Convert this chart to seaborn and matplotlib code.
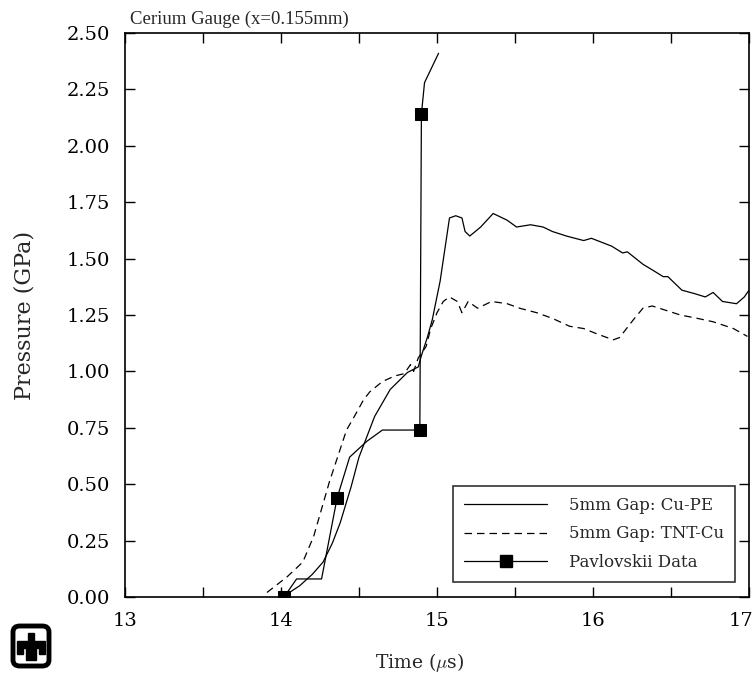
import numpy as np
import pandas as pd
import matplotlib
matplotlib.use("Agg")
import matplotlib.pyplot as plt
import matplotlib.transforms as mtransforms
from matplotlib.lines import Line2D
from matplotlib.patches import FancyBboxPatch, Polygon
import seaborn as sns

sns.set_style("white")
plt.rcParams['font.family'] = ['DejaVu Serif']
plt.rcParams['mathtext.fontset'] = 'cm'

# ---- data ----
cupe_t = [14.01, 14.12, 14.20, 14.27, 14.33, 14.38, 14.45, 14.50, 14.55, 14.60, 14.70, 14.81,
          14.88, 14.90, 14.94, 14.97, 15.02, 15.08, 15.12, 15.16, 15.18, 15.21, 15.28, 15.36,
          15.42, 15.45, 15.51, 15.60, 15.68, 15.74, 15.83, 15.94, 15.99, 16.12, 16.19, 16.22,
          16.32, 16.38, 16.45, 16.48, 16.51, 16.57, 16.65, 16.72, 16.77, 16.83, 16.92, 16.97, 17.00]
cupe_p = [0.00, 0.05, 0.10, 0.155, 0.24, 0.33, 0.49, 0.62, 0.71, 0.80, 0.92, 0.995,
          1.02, 1.07, 1.155, 1.23, 1.40, 1.68, 1.69, 1.68, 1.62, 1.60, 1.64, 1.70,
          1.68, 1.67, 1.64, 1.65, 1.64, 1.62, 1.60, 1.58, 1.59, 1.555, 1.525, 1.53,
          1.475, 1.45, 1.42, 1.42, 1.40, 1.36, 1.345, 1.33, 1.35, 1.31, 1.30, 1.33, 1.36]

tnt_t = [13.91, 14.04, 14.14, 14.21, 14.31, 14.42, 14.47, 14.53, 14.57, 14.65, 14.73, 14.79,
         14.83, 14.85, 14.88, 14.93, 14.96, 15.00, 15.04, 15.08, 15.13, 15.16, 15.20, 15.26,
         15.35, 15.45, 15.53, 15.64, 15.74, 15.85, 15.94, 16.03, 16.13, 16.17, 16.26, 16.32,
         16.38, 16.47, 16.56, 16.67, 16.77, 16.90, 16.99]
tnt_p = [0.02, 0.09, 0.155, 0.27, 0.51, 0.74, 0.80, 0.875, 0.91, 0.955, 0.98, 0.99,
         1.03, 1.00, 1.06, 1.11, 1.19, 1.26, 1.31, 1.33, 1.31, 1.26, 1.31, 1.28,
         1.31, 1.30, 1.28, 1.26, 1.235, 1.20, 1.19, 1.165, 1.14, 1.15, 1.23, 1.28,
         1.29, 1.27, 1.25, 1.235, 1.22, 1.19, 1.155]

pav_t = [14.02, 14.10, 14.26, 14.36, 14.44, 14.55, 14.65, 14.89, 14.90, 14.92, 15.01]
pav_p = [0.00, 0.08, 0.08, 0.44, 0.62, 0.69, 0.74, 0.74, 2.14, 2.28, 2.41]
pav_marks = [0, 3, 7, 8]

x_ticks = [13, 14, 15, 16, 17]
y_ticks = [0.00, 0.25, 0.50, 0.75, 1.00, 1.25, 1.50, 1.75, 2.00, 2.25, 2.50]

labels = ["5mm Gap: Cu-PE", "5mm Gap: TNT-Cu", "Pavlovskii Data"]

# ---- figure ----
fig = plt.figure(figsize=(7.56, 6.8), dpi=100)
ax = fig.add_axes([125/756, 1-597/680, 624/756, 564/680])

df1 = pd.DataFrame({"t": cupe_t, "p": cupe_p})
df2 = pd.DataFrame({"t": tnt_t, "p": tnt_p})
df3 = pd.DataFrame({"t": pav_t, "p": pav_p})

sns.lineplot(data=df1, x="t", y="p", ax=ax, sort=False, estimator=None,
             color="black", linewidth=0.9)
sns.lineplot(data=df2, x="t", y="p", ax=ax, sort=False, estimator=None,
             color="black", linewidth=0.9, linestyle=(0, (6, 4)))
sns.lineplot(data=df3, x="t", y="p", ax=ax, sort=False, estimator=None,
             color="black", linewidth=0.9, marker="s", markersize=8,
             markevery=pav_marks, markeredgecolor="black", markerfacecolor="black")

ax.set_xlim(13, 17)
ax.set_ylim(0, 2.5)
minor_x = np.arange(13, 17.01, 0.5)
ax.set_xticks(minor_x)
ax.set_xticklabels([str(int(v)) if float(v).is_integer() else "" for v in minor_x],
                   fontsize=14)
ax.set_yticks(y_ticks)
ax.set_yticklabels([f"{v:.2f}" for v in y_ticks], fontsize=14)
ax.tick_params(direction="in", length=7, width=1, top=True, right=True,
               bottom=True, left=True, pad=11, colors="black")
for s in ax.spines.values():
    s.set_visible(True)
    s.set_color("black")
    s.set_linewidth(1.2)
ax.set_xlabel("")
ax.set_ylabel("Pressure (GPa)", fontsize=16, labelpad=22)

# keep the last x label inside the canvas
last = ax.get_xticklabels()[-1]
last.set_transform(last.get_transform() +
                   mtransforms.ScaledTranslation(-8/100, 0, fig.dpi_scale_trans))

fig.text(130/756, 1-24/680, "Cerium Gauge (x=0.155mm)", fontsize=13.5, va="baseline",
         ha="left", family="Liberation Serif")
fig.text(420/756, 1-668/680, r"Time ($\mu$s)", fontsize=13.5, va="baseline", ha="center")

handles = [Line2D([], [], color="black", lw=0.9),
           Line2D([], [], color="black", lw=0.9, linestyle=(0, (6, 4))),
           Line2D([], [], color="black", lw=0.9, marker="s", markersize=8)]
leg = ax.legend(handles, labels, loc="lower right", bbox_to_anchor=(0.9776, 0.0266),
                borderaxespad=0, fontsize=12, frameon=True, fancybox=False, edgecolor="black",
                handlelength=5.0, borderpad=0.65, labelspacing=0.7, handletextpad=1.3)
leg.get_frame().set_linewidth(1.2)

# ---- logo (decorative) ----
lx, ly, lw_, lh = 13/756, 1-666/680, 36/756, 40/680
fig.patches.append(FancyBboxPatch((lx, ly), lw_, lh, boxstyle="round,pad=0.0,rounding_size=0.009",
                                  transform=fig.transFigure, facecolor="white",
                                  edgecolor="black", linewidth=3.5))
cx = lx + lw_/2
pts = [(cx-0.004, ly+lh*0.82), (cx+0.004, ly+lh*0.82), (cx+0.004, ly+lh*0.62),
       (cx+lw_*0.38, ly+lh*0.62), (cx+lw_*0.38, ly+lh*0.30), (cx+lw_*0.22, ly+lh*0.30),
       (cx+lw_*0.22, ly+lh*0.45), (cx+0.006, ly+lh*0.45), (cx+0.006, ly+lh*0.15),
       (cx-0.006, ly+lh*0.15), (cx-0.006, ly+lh*0.45), (cx-lw_*0.22, ly+lh*0.45),
       (cx-lw_*0.22, ly+lh*0.30), (cx-lw_*0.38, ly+lh*0.30), (cx-lw_*0.38, ly+lh*0.62),
       (cx-0.004, ly+lh*0.62)]
fig.patches.append(Polygon(pts, closed=True, transform=fig.transFigure,
                           facecolor="black", edgecolor="black"))

fig.savefig("out.png", dpi=100)
